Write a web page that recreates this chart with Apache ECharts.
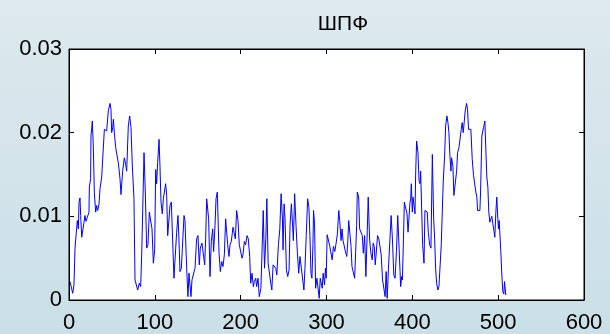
<!DOCTYPE html>
<html>
<head>
<meta charset="utf-8">
<script src="https://cdn.jsdelivr.net/npm/echarts@6/dist/echarts.min.js"></script>
<style>
html,body{margin:0;padding:0;}
#chart{width:610px;height:334px;}
</style>
</head>
<body>
<div id="chart"></div>
<script>
// Chart title and tick labels
const chartTitle = 'ШПФ';
const xTicks = [0, 100, 200, 300, 400, 500, 600];
const yTicks = [0, 0.01, 0.02, 0.03];

// Spectrum magnitude, [bin, value]
const spectrumLow = [
[1.2,0.0022],[3.1,0.0024],[4.3,0.0008],[5.8,0.0018],[7.0,0.0062],[8.2,0.0077],[9.7,0.0095],[10.9,0.0085],
[11.7,0.0117],[12.8,0.0122],[13.6,0.0101],[14.8,0.0075],[15.9,0.0077],[17.5,0.0093],[18.6,0.0101],[19.8,0.0094],
[21.4,0.0099],[23.3,0.0105],[23.7,0.0135],[25.2,0.0145],[25.6,0.0196],[27.2,0.0214],[28.3,0.0184],[29.5,0.0129],
[31.1,0.0105],[32.2,0.0113],[33.4,0.0107],[35.0,0.0115],[36.1,0.0133],[38.1,0.0147],[39.2,0.0149],[41.2,0.0204],
[42.7,0.0206],[43.9,0.0202],[45.8,0.0226],[47.8,0.0235],[48.9,0.0228],[49.7,0.0200],[50.9,0.0206],[51.7,0.0216],
[52.8,0.0200],[54.4,0.0182],[55.5,0.0182],[57.5,0.0164],[59.4,0.0145],[60.6,0.0126],[62.5,0.0154],[64.5,0.0170],
[66.0,0.0162],[67.2,0.0154],[69.1,0.0208],[70.7,0.0220],[72.2,0.0206],[73.8,0.0160],[75.7,0.0121],[76.9,0.0024],
[78.1,0.0022],[80.0,0.0012],[81.9,0.0020],[83.5,0.0016],[84.7,0.0054],[87.4,0.0176],[88.9,0.0129],[90.5,0.0062],
[92.0,0.0066],[93.6,0.0105],[95.1,0.0107],[96.7,0.0085],[98.3,0.0044],[99.8,0.0060],[101.0,0.0156],[102.1,0.0139],
[103.3,0.0164],[104.9,0.0192],[106.0,0.0160],[107.2,0.0117],[108.7,0.0103],[109.9,0.0121],[111.5,0.0122],[112.6,0.0139],
[113.8,0.0125],[115.0,0.0077],[116.5,0.0079],[117.7,0.0113],[119.2,0.0117],[120.4,0.0119],[122.3,0.0026],[123.9,0.0026],
[125.4,0.0081],[127.0,0.0101],[128.2,0.0069],[129.3,0.0034],[130.9,0.0038],[132.4,0.0040],[134.0,0.0101],[135.1,0.0095],
[137.1,0.0038],[138.6,0.0004],[139.8,0.0032],[141.0,0.0032],[142.1,0.0004],[143.3,0.0024],[144.9,0.0024],[146.8,0.0038],
[148.7,0.0073],[150.3,0.0077],[151.8,0.0042],[153.0,0.0062],[154.9,0.0068],[156.5,0.0066],[158.1,0.0042],[159.2,0.0073],
[160.4,0.0121],[161.6,0.0121],[162.7,0.0097],[164.3,0.0028],[165.8,0.0070],[167.4,0.0085],[168.5,0.0058],[170.1,0.0089],
[171.3,0.0121],[172.8,0.0129],[174.8,0.0056],[176.3,0.0034],[177.9,0.0046],[179.4,0.0040],[181.0,0.0054],[182.5,0.0097],
[183.7,0.0081],[184.9,0.0066],[186.4,0.0052],[187.6,0.0066],[189.1,0.0070],[191.1,0.0087],[192.2,0.0081],[193.8,0.0073],
[195.3,0.0107],[196.9,0.0095],[198.4,0.0066],[200.0,0.0066],[201.6,0.0050],[202.7,0.0054],[204.3,0.0070],[205.8,0.0066],
[207.4,0.0077],[208.9,0.0073],[210.5,0.0052],[211.7,0.0020],[213.2,0.0032],[214.8,0.0016],[215.9,0.0022],[217.5,0.0026],
[218.6,0.0016],[220.2,0.0026],[221.4,0.0026],[221.7,0.0004]
];

const spectrumMid = [
[223.6,0.0014],[224.7,0.0014],[226.3,0.0107],[227.8,0.0038],[229.3,0.0073],[230.5,0.0121],[232.0,0.0044],[234.0,0.0044],
[235.1,0.0020],[236.3,0.0012],[237.8,0.0042],[239.8,0.0042],[240.9,0.0038],[242.1,0.0030],[244.0,0.0066],[245.6,0.0085],
[247.1,0.0127],[248.6,0.0099],[249.4,0.0060],[250.6,0.0115],[251.7,0.0097],[253.3,0.0036],[254.8,0.0028],[256.4,0.0036],
[257.5,0.0089],[259.1,0.0115],[260.6,0.0087],[261.4,0.0071],[262.9,0.0127],[264.5,0.0089],[266.0,0.0058],[267.6,0.0032],
[269.1,0.0052],[270.7,0.0038],[272.2,0.0038],[273.7,0.0012],[274.9,0.0038],[276.4,0.0077],[278.0,0.0121],[279.5,0.0111],
[280.7,0.0077],[281.9,0.0032],[283.0,0.0026],[284.2,0.0066],[284.9,0.0107],[286.1,0.0091],[287.3,0.0014],[288.8,0.0026],
[290.3,0.0026],[291.5,0.0002],[292.7,0.0026],[293.8,0.0026],[295.0,0.0014],[296.1,0.0032],[297.7,0.0018],[298.8,0.0038],
[299.6,0.0026],[300.8,0.0078],[302.7,0.0077],[303.9,0.0064],[305.4,0.0066],[306.6,0.0048],[308.1,0.0064],[309.7,0.0058],
[311.2,0.0068],[312.7,0.0079],[314.3,0.0107],[315.4,0.0095],[317.0,0.0071],[318.1,0.0085],[319.3,0.0071],[320.8,0.0070],
[322.0,0.0058],[323.6,0.0052],[324.7,0.0068],[325.9,0.0095],[327.4,0.0097],[328.6,0.0064],[329.7,0.0040],[331.3,0.0038],
[332.8,0.0026],[334.0,0.0058],[335.1,0.0089],[335.9,0.0129],[337.5,0.0123],[338.6,0.0085],[340.2,0.0085],[341.7,0.0077],
[342.9,0.0056],[344.4,0.0077],[345.9,0.0028],[347.5,0.0083],[348.6,0.0123],[350.2,0.0073],[351.7,0.0056],[353.3,0.0048],
[354.4,0.0068],[355.6,0.0064],[356.8,0.0042],[358.3,0.0042],[359.5,0.0077],[361.0,0.0073],[362.5,0.0073],[363.7,0.0054],
[365.3,0.0024],[366.8,0.0024],[368.3,0.0004],[369.5,0.0034],[370.7,0.0002],[372.2,0.0038],[373.7,0.0038],[375.3,0.0101],
[376.8,0.0073],[378.4,0.0030],[379.9,0.0026],[381.5,0.0058],[383.0,0.0101]
];

const spectrumHigh = [
[384.5,0.0101],[385.7,0.0034],[386.4,0.0016],[387.6,0.0028],[388.4,0.0024],[389.5,0.0066],[390.7,0.0117],[392.2,0.0117],
[393.8,0.0103],[395.0,0.0081],[396.1,0.0079],[397.3,0.0117],[398.1,0.0121],[398.8,0.0139],[400.0,0.0105],[400.8,0.0123],
[401.9,0.0121],[403.1,0.0103],[403.9,0.0152],[405.0,0.0190],[406.6,0.0176],[407.8,0.0143],[408.9,0.0139],[409.7,0.0154],
[410.9,0.0152],[412.0,0.0066],[413.6,0.0044],[414.7,0.0107],[416.3,0.0107],[417.4,0.0105],[418.6,0.0081],[420.2,0.0066],
[421.7,0.0062],[423.3,0.0174],[424.8,0.0099],[426.0,0.0073],[427.1,0.0038],[428.3,0.0020],[429.8,0.0012],[431.0,0.0016],
[432.2,0.0018],[433.7,0.0066],[434.9,0.0105],[436.0,0.0141],[437.6,0.0172],[438.8,0.0208],[440.3,0.0220],[441.5,0.0212],
[442.6,0.0200],[443.8,0.0172],[445.0,0.0154],[445.7,0.0170],[447.3,0.0160],[448.4,0.0125],[450.4,0.0125],[451.6,0.0154],
[452.7,0.0176],[454.3,0.0182],[455.8,0.0182],[457.0,0.0204],[458.1,0.0212],[459.3,0.0200],[460.5,0.0200],[461.6,0.0226],
[463.2,0.0235],[464.3,0.0228],[465.5,0.0204],[466.7,0.0206],[468.2,0.0204],[469.8,0.0168],[471.3,0.0149],[472.9,0.0147],
[474.0,0.0129],[475.2,0.0123],[476.0,0.0107],[477.5,0.0109],[478.7,0.0107],[479.5,0.0129],[481.0,0.0196],[482.9,0.0206],
[484.5,0.0214],[485.7,0.0178],[486.8,0.0147],[488.0,0.0135],[489.1,0.0105],[490.3,0.0093],[491.5,0.0097],[492.6,0.0100],
[493.8,0.0091],[495.0,0.0083],[496.1,0.0075],[497.3,0.0105],[498.4,0.0123],[499.6,0.0097],[500.4,0.0085],[501.2,0.0095],
[501.9,0.0093],[503.1,0.0058],[504.3,0.0030],[505.4,0.0010],[506.6,0.0007],[507.4,0.0022],[508.5,0.0022],[508.9,0.0006]
];

const spectrum = spectrumLow.concat(spectrumMid, spectrumHigh);

const font = "'Liberation Sans', Arial, sans-serif";
const chart = echarts.init(document.getElementById('chart'), null, {renderer: 'canvas'});

const axisCommon = {
  type: 'value',
  axisLine: {show: true, onZero: false, lineStyle: {color: '#000', width: 1}},
  axisTick: {show: true, inside: true, length: 5, lineStyle: {color: '#000', width: 1}},
  splitLine: {show: false}
};

chart.setOption({
  animation: false,
  backgroundColor: {
    type: 'linear', x: 0, y: 0, x2: 0, y2: 1,
    colorStops: [{offset: 0, color: '#dde9ee'}, {offset: 1, color: '#cadfe7'}]
  },
  title: {
    text: chartTitle,
    left: 338,
    top: 9,
    textAlign: 'center',
    textStyle: {fontFamily: font, fontSize: 21, fontWeight: 'normal', color: '#000'}
  },
  grid: {
    left: 69, right: 26, top: 49, bottom: 32,
    show: true, backgroundColor: '#ffffff', borderColor: '#000', borderWidth: 1
  },
  xAxis: [
    Object.assign({}, axisCommon, {
      position: 'bottom', min: xTicks[0], max: xTicks[xTicks.length - 1], interval: 100,
      axisLabel: {show: true, fontFamily: font, fontSize: 22, color: '#000', margin: 12}
    }),
    Object.assign({}, axisCommon, {
      position: 'top', min: xTicks[0], max: xTicks[xTicks.length - 1], interval: 100,
      axisLabel: {show: false}
    })
  ],
  yAxis: [
    Object.assign({}, axisCommon, {
      position: 'left', min: yTicks[0], max: yTicks[yTicks.length - 1], interval: 0.01,
      axisLabel: {show: true, fontFamily: font, fontSize: 22, color: '#000', margin: 7}
    }),
    Object.assign({}, axisCommon, {
      position: 'right', min: yTicks[0], max: yTicks[yTicks.length - 1], interval: 0.01,
      axisLabel: {show: false}
    })
  ],
  series: [{
    type: 'line',
    xAxisIndex: 0,
    yAxisIndex: 0,
    data: spectrum,
    showSymbol: false,
    symbol: 'none',
    lineStyle: {color: '#0000ff', width: 1},
    silent: true
  }]
});
</script>
</body>
</html>
